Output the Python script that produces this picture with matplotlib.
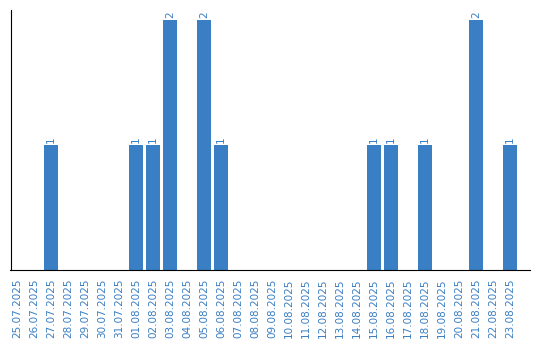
import matplotlib
matplotlib.use("Agg")
from matplotlib import pyplot as plt

dates = ["25.07.2025", "26.07.2025", "27.07.2025", "28.07.2025", "29.07.2025",
         "30.07.2025", "31.07.2025", "01.08.2025", "02.08.2025", "03.08.2025",
         "04.08.2025", "05.08.2025", "06.08.2025", "07.08.2025", "08.08.2025",
         "09.08.2025", "10.08.2025", "11.08.2025", "12.08.2025", "13.08.2025",
         "14.08.2025", "15.08.2025", "16.08.2025", "17.08.2025", "18.08.2025",
         "19.08.2025", "20.08.2025", "21.08.2025", "22.08.2025", "23.08.2025"]
counts = [0, 0, 1, 0, 0, 0, 0, 1, 1, 2,
          0, 2, 1, 0, 0, 0, 0, 0, 0, 0,
          0, 1, 1, 0, 1, 0, 0, 2, 0, 1]

blue = "#3a7ec3"

fig = plt.figure(figsize=(5.4, 3.4), dpi=100)
ax = fig.add_axes([10.5 / 540, 70 / 340, 519.5 / 540, 260 / 340])

x = range(len(dates))
bars = ax.bar(x, counts, width=0.82, color=blue)

for i, v in enumerate(counts):
    if v > 0:
        ax.text(i, v + 0.02, str(v), rotation=90, ha="center", va="bottom",
                color=blue, fontsize=7.5)

ax.set_xticks(list(x))
ax.set_xticklabels(dates, rotation=90, color=blue, fontsize=7.5)
ax.tick_params(axis="x", length=0, pad=6)
ax.set_yticks([])
ax.set_xlim(-0.38, 30.18)
ax.set_ylim(0, 2.08)
ax.spines["top"].set_visible(False)
ax.spines["right"].set_visible(False)

fig.savefig("out.png", dpi=100)
